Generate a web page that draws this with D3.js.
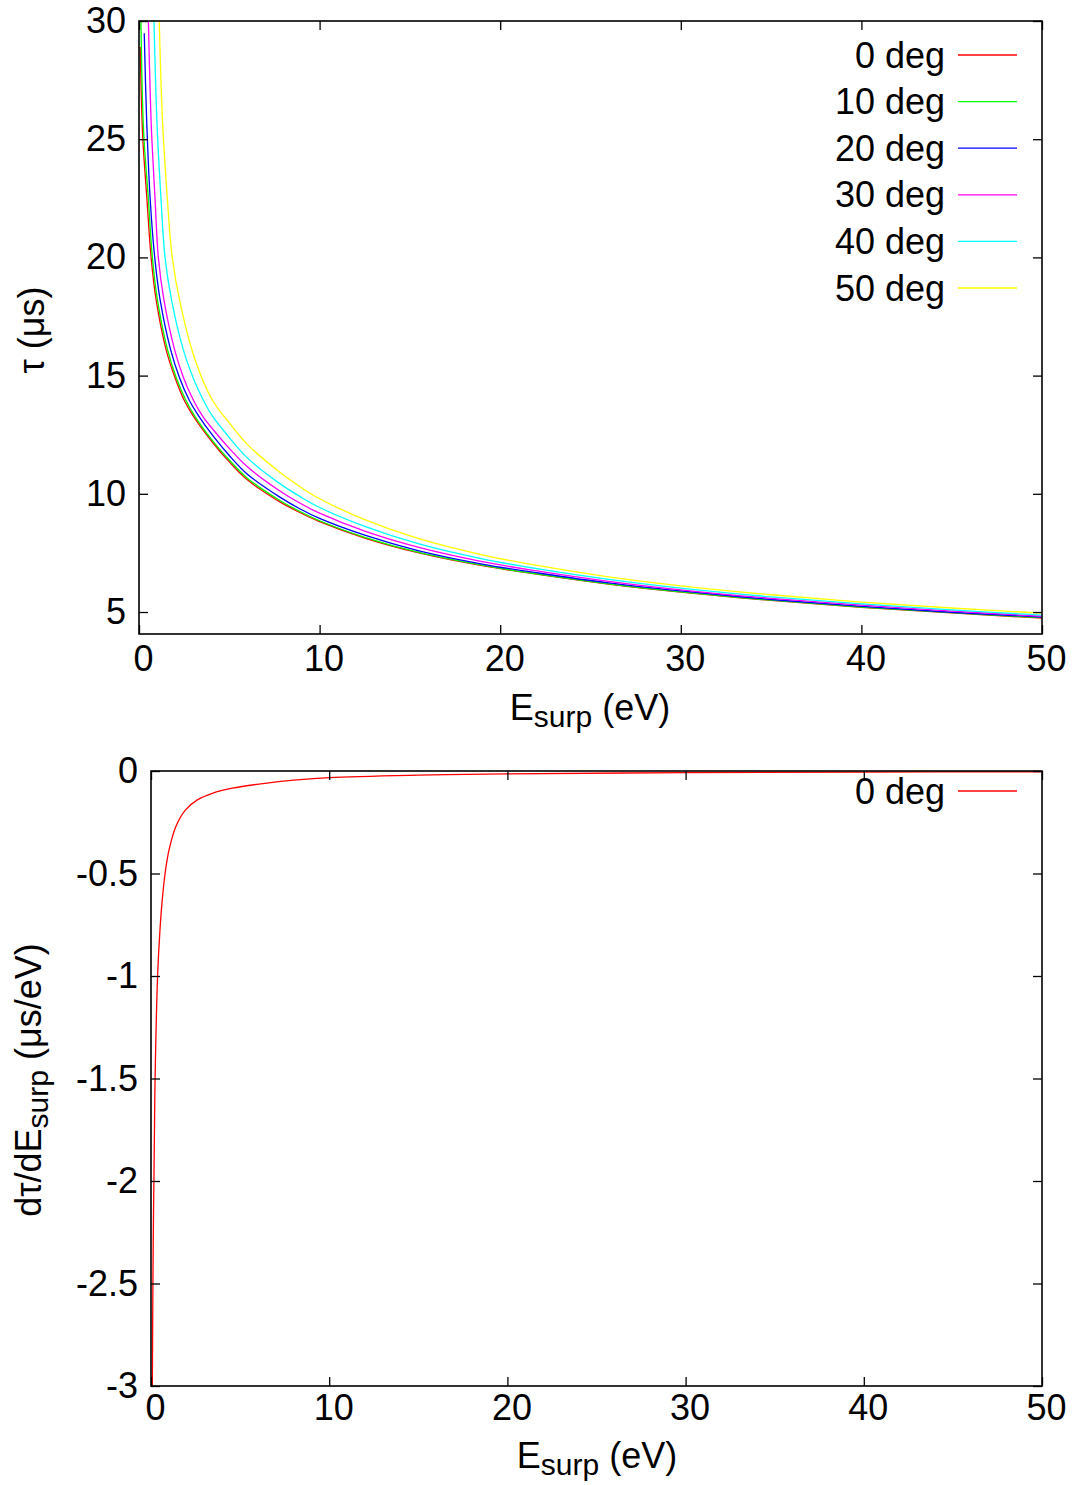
<!DOCTYPE html>
<html><head><meta charset="utf-8">
<script src="https://cdn.jsdelivr.net/npm/d3@7"></script>
<style>
body{margin:0;background:#fff}
text{font-family:"Liberation Sans",Arial,Helvetica,sans-serif;fill:#000}
</style>
</head><body>
<svg id="c" width="1072" height="1485"></svg>
<script>
// ---------- data ----------
const seriesNames = ["0 deg","10 deg","20 deg","30 deg","40 deg","50 deg"];
const seriesColors = ["#ff0000","#00ff00","#0000ff","#ff00ff","#00ffff","#ffff00"];

const E_0deg   = [0.07,0.2,0.44,0.67,0.95,1.5,2.0,2.49,3.0,4.1,5,6,7.8,8.9,10,12.5,15.5,19,22.2,26,30,35,40,45,50];
const tau_0deg = [28.9,25.2,22.46,20.0,18.2,16.1,14.9,13.98,13.3,12.15,11.35,10.59,9.66,9.21,8.82,8.13,7.5,6.96,6.58,6.18,5.84,5.49,5.2,4.96,4.74];

const E_10deg   = [0.1,0.25,0.52,0.74,1.02,1.58,2.07,2.58,3.08,4.1,5,6,7.8,8.9,10,12.5,15.5,19,22.2,26,30,35,40,45,50];
const tau_10deg = [30.4,25.4,22.46,20.0,18.2,16.1,14.9,13.98,13.3,12.22,11.43,10.66,9.72,9.26,8.86,8.16,7.52,6.98,6.59,6.19,5.85,5.5,5.21,4.97,4.76];

const E_20deg   = [0.29,0.42,0.62,0.87,1.17,1.75,2.25,2.77,3.3,4.1,5,6,7.8,8.9,10,12.5,15.5,19,22.2,26,30,35,40,45,50];
const tau_20deg = [29.48,25.9,22.46,20.0,18.2,16.1,14.9,13.98,13.3,12.45,11.62,10.83,9.86,9.37,8.96,8.25,7.59,7.03,6.64,6.23,5.89,5.53,5.24,4.99,4.79];

const E_30deg   = [0.52,0.68,0.89,1.07,1.38,1.97,2.47,3.0,3.55,4.1,5,6,7.8,8.9,10,12.5,15.5,19,22.2,26,30,35,40,45,50];
const tau_30deg = [30.0,25.6,22.46,20.0,18.2,16.1,14.9,13.98,13.25,12.72,11.92,11.14,10.12,9.61,9.18,8.42,7.73,7.13,6.72,6.3,5.94,5.58,5.29,5.04,4.82];

const E_40deg   = [0.83,1.0,1.22,1.44,1.8,2.45,3.0,3.55,4.1,5,6,7.8,8.9,10,12.5,15.5,19,22.2,26,30,35,40,45,50];
const tau_40deg = [30.0,25.6,22.46,20.0,18.2,16.1,14.9,13.98,13.25,12.38,11.52,10.43,9.89,9.42,8.62,7.88,7.25,6.81,6.38,6.01,5.64,5.34,5.09,4.87];

const E_50deg   = [1.12,1.3,1.57,1.84,2.3,3.1,4.05,5,6,7.8,8.9,10,12.5,15.5,19,22.2,26,30,35,40,45,50];
const tau_50deg = [30.0,25.8,22.46,20.0,18.0,15.68,13.98,13.0,12.09,10.91,10.31,9.79,8.91,8.1,7.42,6.95,6.49,6.11,5.73,5.42,5.17,4.95];

const E_deriv    = [0.065,0.1,0.13,0.17,0.23,0.37,0.5,0.63,0.79,1.0,1.39,1.94,2.6,3.44,4.56,6.4,8,10,15,20,30,40,50];
const dtau_deriv = [-3.2,-2.6,-2.25,-1.95,-1.5,-1.0,-0.78,-0.63,-0.5,-0.39,-0.272,-0.19,-0.141,-0.109,-0.084,-0.06,-0.045,-0.032,-0.02,-0.014,-0.008,-0.005,-0.004];

const xTicks = [0,10,20,30,40,50];
const yTicksTop = [5,10,15,20,25,30];
const yTicksBot = [0,-0.5,-1,-1.5,-2,-2.5,-3];
const yTickLabelsBot = ["0","-0.5","-1","-1.5","-2","-2.5","-3"];

const seriesE = [E_0deg,E_10deg,E_20deg,E_30deg,E_40deg,E_50deg];
const seriesTau = [tau_0deg,tau_10deg,tau_20deg,tau_30deg,tau_40deg,tau_50deg];

// ---------- drawing ----------
const svg = d3.select("#c");
const FS = 36;
const SUB = 30;

function frame(g, x0, x1, y0, y1){
  g.append("rect").attr("x",x0).attr("y",y0).attr("width",x1-x0).attr("height",y1-y0)
   .attr("fill","none").attr("stroke","#000").attr("stroke-width",1.6);
}

function axes(g, x, y, yTicks, yFmt, xPad){
  const [x0,x1] = x.range(); const [y1,y0] = y.range();
  const ab = g.append("g").attr("transform",`translate(0,${y1})`)
    .call(d3.axisBottom(x).tickValues(xTicks).tickSize(-9).tickPadding(xPad).tickFormat(d3.format("d")));
  ab.selectAll("text").attr("dx",4);
  g.append("g").attr("transform",`translate(0,${y0})`)
    .call(d3.axisTop(x).tickValues(xTicks).tickSize(-9).tickFormat(""));
  g.append("g").attr("transform",`translate(${x0},0)`)
    .call(d3.axisLeft(y).tickValues(yTicks).tickSize(-9).tickPadding(13).tickFormat(yFmt));
  g.append("g").attr("transform",`translate(${x1},0)`)
    .call(d3.axisRight(y).tickValues(yTicks).tickSize(-9).tickFormat(""));
  g.selectAll(".domain").remove();
  g.selectAll(".tick line").attr("stroke","#000").attr("stroke-width",1.3);
  g.selectAll(".tick text").style("font-size",FS+"px").attr("fill","#000");
}

function esurpLabel(g, cx, baseline){
  const t = g.append("text").attr("x",cx).attr("y",baseline).attr("text-anchor","middle").style("font-size",FS+"px");
  t.append("tspan").text("E");
  t.append("tspan").attr("dy",7).style("font-size",SUB+"px").text("surp");
  t.append("tspan").attr("dy",-7).text(" (eV)");
}

// ---- top plot ----
const L1={x0:139,x1:1042,y0:21,y1:634};
const xT = d3.scaleLinear().domain([0,50]).range([L1.x0,L1.x1]);
const yT = d3.scaleLinear().domain([4.07,30]).range([L1.y1,L1.y0]);
const gT = svg.append("g");
svg.append("clipPath").attr("id","clipT").append("rect")
  .attr("x",L1.x0).attr("y",L1.y0).attr("width",L1.x1-L1.x0).attr("height",L1.y1-L1.y0);

const lineT = d3.line().x(d=>xT(d[0])).y(d=>yT(d[1])).curve(d3.curveCatmullRom.alpha(0.5));
seriesE.forEach((Es,i)=>{
  const pts = Es.map((e,j)=>[e,seriesTau[i][j]]);
  gT.append("path").attr("d",lineT(pts)).attr("fill","none")
    .attr("stroke",seriesColors[i]).attr("stroke-width",1.3).attr("clip-path","url(#clipT)");
});
axes(gT,xT,yT,yTicksTop,d3.format("d"),11);
frame(gT,L1.x0,L1.x1,L1.y0,L1.y1);

seriesNames.forEach((n,i)=>{
  const cy = 55 + i*46.6;
  gT.append("text").attr("x",945).attr("y",cy).attr("dy","0.35em").attr("text-anchor","end")
    .style("font-size",FS+"px").text(n);
  gT.append("line").attr("x1",958).attr("x2",1017).attr("y1",cy).attr("y2",cy)
    .attr("stroke",seriesColors[i]).attr("stroke-width",1.3);
});

esurpLabel(gT, 590, 720);
gT.append("text").attr("transform","translate(44,330) rotate(-90)").attr("text-anchor","middle")
  .style("font-size",FS+"px").text("τ (μs)");

// ---- bottom plot ----
const L2={x0:151,x1:1042,y0:771,y1:1386};
const xB = d3.scaleLinear().domain([0,50]).range([L2.x0,L2.x1]);
const yB = d3.scaleLinear().domain([-3,0]).range([L2.y1,L2.y0]);
const gB = svg.append("g");
svg.append("clipPath").attr("id","clipB").append("rect")
  .attr("x",L2.x0).attr("y",L2.y0).attr("width",L2.x1-L2.x0).attr("height",L2.y1-L2.y0);
const lineB = d3.line().x(d=>xB(d[0])).y(d=>yB(d[1])).curve(d3.curveCatmullRom.alpha(0.5));
gB.append("path").attr("d",lineB(E_deriv.map((e,j)=>[e,dtau_deriv[j]]))).attr("fill","none")
  .attr("stroke",seriesColors[0]).attr("stroke-width",1.3).attr("clip-path","url(#clipB)");
axes(gB,xB,yB,yTicksBot,(d,i)=>yTickLabelsBot[i],8);
frame(gB,L2.x0,L2.x1,L2.y0,L2.y1);

gB.append("text").attr("x",945).attr("y",791).attr("dy","0.35em").attr("text-anchor","end")
  .style("font-size",FS+"px").text(seriesNames[0]);
gB.append("line").attr("x1",958).attr("x2",1017).attr("y1",791).attr("y2",791)
  .attr("stroke",seriesColors[0]).attr("stroke-width",1.3);

esurpLabel(gB, 597, 1468);
const yt = gB.append("text").attr("transform","translate(41,1080) rotate(-90)").attr("text-anchor","middle")
  .style("font-size",FS+"px");
yt.append("tspan").text("dτ/dE");
yt.append("tspan").attr("dy",7).style("font-size",SUB+"px").text("surp");
yt.append("tspan").attr("dy",-7).text(" (μs/eV)");
</script>
</body></html>
